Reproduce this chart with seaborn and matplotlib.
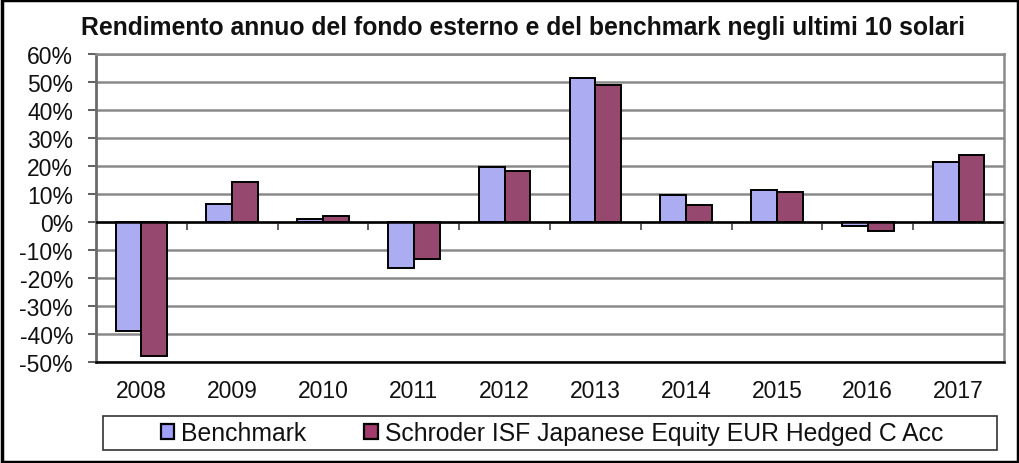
import matplotlib
matplotlib.use("Agg")
import matplotlib.pyplot as plt
from matplotlib.patches import Rectangle, Patch
from matplotlib.ticker import MultipleLocator, FuncFormatter
import seaborn as sns
import pandas as pd

years = ["2008", "2009", "2010", "2011", "2012", "2013", "2014", "2015", "2016", "2017"]
benchmark = [-38.9, 6.6, 1.1, -16.4, 19.6, 51.5, 9.8, 11.6, -1.4, 21.3]
fund = [-48.0, 14.4, 2.0, -13.2, 18.2, 48.8, 6.2, 10.7, -3.2, 24.1]
series_names = ["Benchmark", "Schroder ISF Japanese Equity EUR Hedged C Acc"]
colors = ["#A0A0FF", "#A33B6E"]
title = "Rendimento annuo del fondo esterno e del benchmark negli ultimi 10 solari"

df = pd.DataFrame({
    "anno": years * 2,
    "serie": [series_names[0]] * len(years) + [series_names[1]] * len(years),
    "rendimento": benchmark + fund,
})

sns.set_style("white")
plt.rcParams["font.family"] = ["Liberation Sans", "DejaVu Sans"]

fig = plt.figure(figsize=(10.2, 4.64), dpi=100)
ax = fig.add_axes([96 / 1020, 1 - 363 / 464, (1004 - 96) / 1020, (363 - 55) / 464])

sns.barplot(data=df, x="anno", y="rendimento", hue="serie", hue_order=series_names,
            palette=colors, width=0.57, gap=0, edgecolor="black", linewidth=1.4,
            ax=ax, legend=False, zorder=3)

ymin, ymax = -50, 60
ax.set_ylim(ymin, ymax)
ax.set_xlim(-0.5, len(years) - 0.5)
ax.yaxis.set_major_locator(MultipleLocator(10))
ax.yaxis.set_major_formatter(FuncFormatter(lambda v, p: f"{v:.0f}%"))
ax.grid(axis="y", color="#8a8a8a", linewidth=1.8, zorder=0)
ax.set_axisbelow(True)
ax.axhline(0, color="black", linewidth=1.8, zorder=4)

ax.set_xlabel("")
ax.set_ylabel("")
ax.tick_params(axis="x", length=0, pad=12, labelsize=16.5, labelcolor="#111111")
ax.tick_params(axis="y", left=True, length=6, width=1.2, color="#444444",
               pad=10.5, labelsize=16.5, labelcolor="#111111")

for side in ["top", "right"]:
    ax.spines[side].set_color("#8a8a8a")
    ax.spines[side].set_linewidth(1.8)
ax.spines["left"].set_color("#6a6a6a")
ax.spines["left"].set_linewidth(2.0)
ax.spines["bottom"].set_color("black")
ax.spines["bottom"].set_linewidth(1.8)

# category separators on the zero line
zero_axis = ax.secondary_xaxis((0 - ymin) / (ymax - ymin))
zero_axis.set_xticks([i + 0.5 for i in range(len(years) - 1)])
zero_axis.tick_params(axis="x", direction="out", length=6, width=1.2,
                      color="#444444", labelbottom=False, labeltop=False)
zero_axis.spines["bottom"].set_visible(False)
zero_axis.spines["top"].set_visible(False)

fig.text(523 / 1020, 1 - 28 / 464, title, ha="center", va="center",
         fontsize=17.8, fontweight="bold", color="#111111")

handles = [Patch(facecolor=c, edgecolor="black", linewidth=1.6) for c in colors]
fig.legend(handles, series_names, loc="center",
           bbox_to_anchor=(552 / 1020, 1 - 434 / 464), ncol=2, frameon=False,
           fontsize=17.8, handlelength=0.55, handleheight=0.55, handletextpad=0.28,
           columnspacing=2.35, labelcolor="#111111")
fig.add_artist(Rectangle((103 / 1020, 1 - 451 / 464), (997 - 103) / 1020, 34 / 464,
                         transform=fig.transFigure, fill=False,
                         edgecolor="#333333", linewidth=1.2))
fig.add_artist(Rectangle((0.002, 0.003), 0.996, 0.994, transform=fig.transFigure,
                         fill=False, edgecolor="black", linewidth=2.5))

fig.savefig("out.png", dpi=100)
